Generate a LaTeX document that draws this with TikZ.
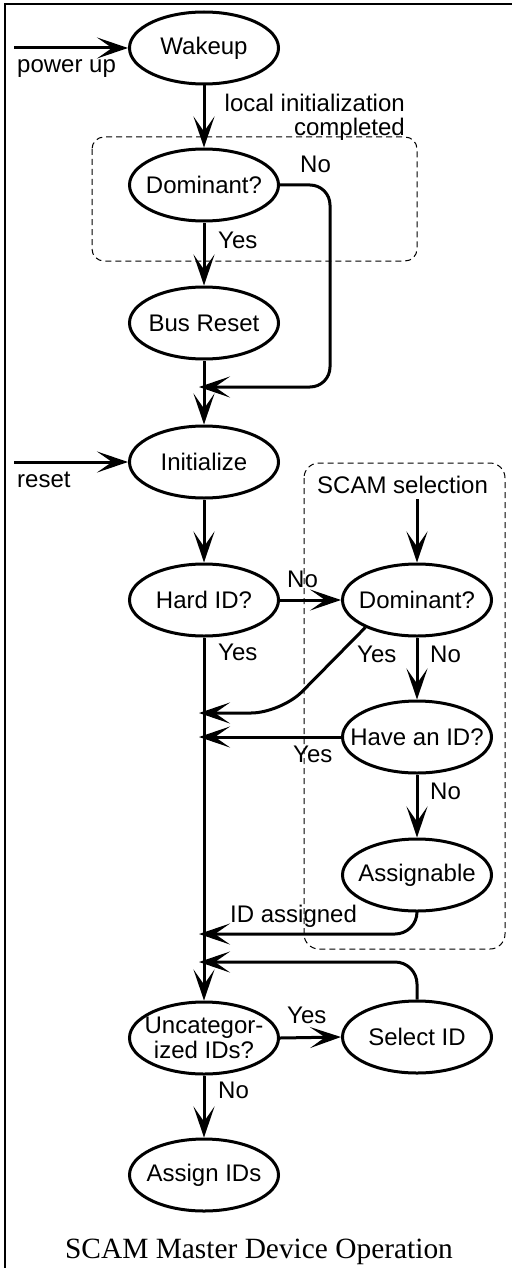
\documentclass[tikz,border=0pt]{standalone}
\usepackage{fontspec}
\setmainfont{Liberation Sans}
\newfontfamily\capfont{Liberation Serif}
\usetikzlibrary{arrows.meta,shapes.geometric}
\begin{document}
\begin{tikzpicture}[x=1pt,y=-1pt,
  every node/.style={font=\fontsize{24}{25}\selectfont},
  state/.style={draw, ellipse, line width=3pt, minimum width=149pt, minimum height=72pt,
    inner xsep=-45pt, inner ysep=0pt, align=center},
  arr/.style={line width=3pt, -{Stealth[length=31pt,width=21pt,inset=15pt]}},
  lbl/.style={anchor=base west, inner sep=0pt},
  group/.style={draw, line width=1pt, dash pattern=on 6pt off 4pt}
]
\useasboundingbox (0,0) rectangle (511,1268);
% frame
\draw[line width=2pt] (5,1275) -- (5,4) -- (520,4);
% groups
\draw[group, rounded corners=12pt] (92,137) rectangle (417,261);
\draw[group, rounded corners=15pt] (304,463) rectangle (505,949);
% states
\node[state] (wake) at (204,48) {Wakeup};
\node[state] (dom1) at (204,185) {Dominant?};
\node[state] (bus)  at (204,323) {Bus Reset};
\node[state] (init) at (204,462) {Initialize};
\node[state] (hard) at (204,600) {Hard ID?};
\node[state] (dom2) at (417,600) {Dominant?};
\node[state] (have) at (417,737) {Have an ID?};
\node[state] (assn) at (417,875) {Assignable};
\node[state] (unc)  at (204,1038) {Uncategor-\\ized IDs?};
\node[state] (sel)  at (417,1037) {Select ID};
\node[state] (asg)  at (204,1175) {Assign IDs};
% free ends
\coordinate (pu) at (14,48);
\coordinate (rs) at (14,462);
\coordinate (sc) at (417,499);
\coordinate (j1) at (199,387);
\coordinate (j2) at (199,713);
\coordinate (j3) at (199,737);
\coordinate (j4) at (199,934);
\coordinate (j5) at (199,962);
% connectors
\draw[arr] (pu) -- (wake.west);
\draw[arr] (wake.south) -- (dom1.north);
\draw[arr, rounded corners=20pt] (dom1.east) -- (330,185) -- (330,387) -- (j1);
\draw[arr] (dom1.south) -- (bus.north);
\draw[arr] (bus.south) -- (init.north);
\draw[arr] (rs) -- (init.west);
\draw[arr] (init.south) -- (hard.north);
\draw[arr] (hard.east) -- (dom2.west);
\draw[arr] (sc) -- (dom2.north);
\draw[arr] (dom2.south) -- (have.north);
\draw[arr, rounded corners=30pt] (dom2.208) -- (281,713) -- (j2);
\draw[arr] (have.west) -- (j3);
\draw[arr] (have.south) -- (assn.north);
\draw[arr, rounded corners=22pt] (assn.south) |- (j4);
\draw[arr, rounded corners=22pt] (sel.north) |- (j5);
\draw[arr] (hard.south) -- (unc.north);
\draw[arr] (unc.east) -- (sel.west);
\draw[arr] (unc.south) -- (asg.north);
% labels
\node[lbl] at (17,73) {power up};
\node[lbl, anchor=base east] at (405,112) {local initialization};
\node[lbl, anchor=base east] at (405,136) {completed};
\node[lbl] at (300,173) {No};
\node[lbl] at (218,248) {Yes};
\node[lbl] at (17,487) {reset};
\node[lbl] at (317,493) {SCAM selection};
\node[lbl] at (287,587) {No};
\node[lbl] at (218,660) {Yes};
\node[lbl] at (357,662) {Yes};
\node[lbl] at (430,662) {No};
\node[lbl] at (293,762) {Yes};
\node[lbl] at (430,799) {No};
\node[lbl] at (230,922) {ID assigned};
\node[lbl] at (287,1023) {Yes};
\node[lbl] at (218,1098) {No};
\node[anchor=base, inner sep=0pt, font=\capfont\fontsize{29.4}{30}\selectfont] at (259,1258) {SCAM Master Device Operation};
\end{tikzpicture}
\end{document}
